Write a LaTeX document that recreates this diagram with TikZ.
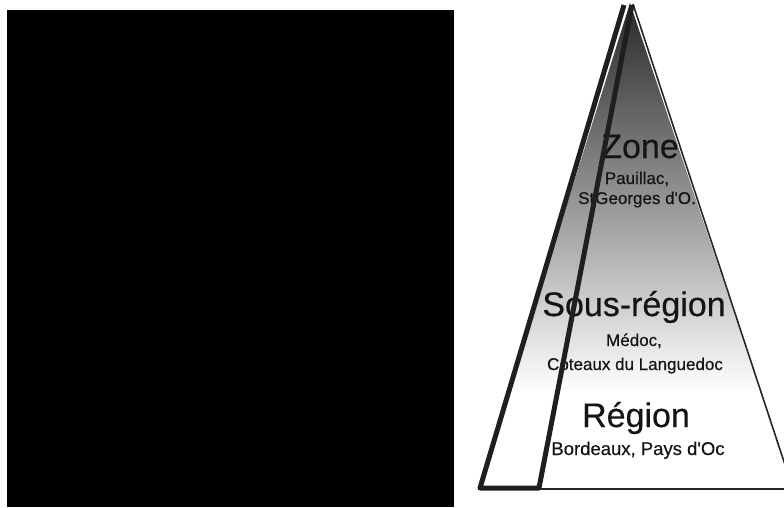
\documentclass[tikz,border=0pt]{standalone}
\usepackage{fontspec}
\setmainfont{Liberation Sans}
\newfontfamily\scanfont{Liberation Sans}[FakeBold=0.4]
\begin{document}
\begin{tikzpicture}[x=1pt,y=-1pt,
  bigtext/.style={anchor=base,inner sep=0pt,text=black!92,font=\scanfont\fontsize{34}{40}\selectfont},
  smalltext/.style={anchor=base,inner sep=0pt,text=black!92,font=\scanfont\fontsize{17}{20}\selectfont},
  sliverline/.style={draw=black!88,line width=5pt,line join=round},
  thinedge/.style={draw=black!85,line width=1.6pt}]
\useasboundingbox (0,0) rectangle (784,507);
% black panel
\fill[black] (7,10) rectangle (454,507);
% pyramid with gradient
\coordinate (apex) at (630,3);
\coordinate (bl) at (478,489);
\coordinate (br) at (793,489);
\begin{scope}
  \clip (apex) -- (bl) -- (br) -- cycle;
  \fill[white] (470,0) rectangle (800,500);
  \shade[top color=black!85,middle color=black!36,bottom color=white] (470,0) rectangle (800,392);
\end{scope}
\draw[thinedge] (633,4) -- (br);
\draw[thinedge] (bl) -- (br);
% labels
\node[bigtext] (zone) at (640,158) {Zone};
\node[smalltext] (pauillac) at (637,184) {Pauillac,};
\node[smalltext] (stgeorges) at (637,204) {St\kern1pt Georges d\textquotesingle O.};
\node[bigtext] (sousregion) at (634,316) {Sous-région};
\node[smalltext] (medoc) at (634,346) {Médoc,};
\node[smalltext] (coteaux) at (635,370) {Coteaux du Languedoc};
\node[bigtext] (region) at (636,427) {Région};
\node[smalltext,font=\scanfont\fontsize{18.5}{22}\selectfont] (bordeaux) at (638,455) {Bordeaux, Pays d\textquotesingle Oc};
% sliver outline
\draw[sliverline] (624,5) -- (480,488) -- (539,488) -- (632,5);
\end{tikzpicture}
\end{document}
